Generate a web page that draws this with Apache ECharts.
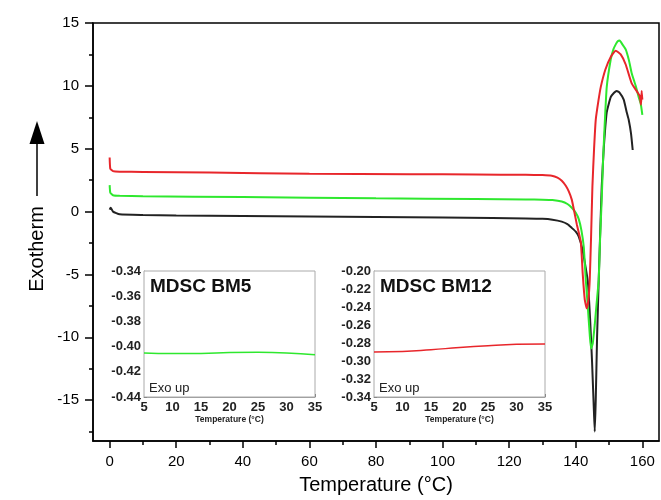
<!DOCTYPE html>
<html>
<head>
<meta charset="utf-8">
<script src="https://cdn.jsdelivr.net/npm/echarts@6/dist/echarts.min.js"></script>
<style>
  html, body { margin: 0; padding: 0; background: #fff; }
  #chart { width: 661px; height: 500px; }
</style>
</head>
<body>
<div id="chart"></div>
<script>
// main DSC curves (temperature in C, heat flow)
const redTemp = [0, 0.2, 1, 3, 10, 30, 60, 90, 110, 125, 130, 132.8, 134.5, 135.8, 137, 137.9, 138.8, 139.4, 140.3, 141.5, 142.1, 142.7, 143.3, 143.8, 144.2, 144.6, 145.0, 145.5, 146, 146.8, 147.5, 148.9, 150.5, 152, 153.5, 155, 156.8, 158.5, 159.2, 159.6, 159.8, 160]
const redHeat = [4.3, 3.4, 3.22, 3.17, 3.15, 3.1, 3.0, 2.97, 2.95, 2.92, 2.9, 2.85, 2.7, 2.45, 2.05, 1.6, 0.95, 0.2, -1.0, -2.4, -5.0, -7.0, -7.7, -7.0, -5.4, -2.0, 2.0, 5.0, 7.3, 8.8, 9.9, 11.3, 12.3, 12.8, 12.5, 11.7, 10.2, 9.5, 9.2, 8.5, 9.6, 8.9]

const greenTemp = [0, 0.2, 1, 3, 10, 40, 80, 110, 125, 130, 133, 135.8, 137.5, 138.8, 140, 140.9, 141.7, 142.4, 143, 143.6, 144.2, 144.6, 145.1, 145.7, 146.3, 146.9, 147.3, 147.8, 148.2, 148.7, 149.3, 150.5, 151.3, 152, 152.6, 153.2, 154, 155, 156, 156.8, 158, 158.9, 159.5, 160]
const greenHeat = [2.1, 1.5, 1.3, 1.25, 1.22, 1.15, 1.05, 1.0, 0.97, 0.95, 0.92, 0.8, 0.6, 0.3, -0.1, -0.6, -1.5, -2.8, -5.4, -7.5, -9.8, -10.9, -10.5, -9.0, -7.2, -5.4, -2.2, 1.0, 4.1, 7.0, 9.9, 12.1, 12.9, 13.3, 13.55, 13.6, 13.3, 12.9, 12.0, 11.0, 10.0, 9.1, 8.6, 7.7]

const blackTemp = [0, 0.3, 1, 3, 10, 20, 40, 60, 80, 100, 115, 125, 130, 133, 135.8, 137.5, 138.8, 140, 140.9, 142, 143, 143.6, 144.3, 144.9, 145.4, 145.7, 146.0, 146.4, 146.9, 147.3, 147.8, 148.4, 149.3, 150.5, 151.5, 152.3, 153.2, 154.4, 155.3, 155.9, 156.6, 157.1]
const blackHeat = [0.15, 0.3, 0.0, -0.22, -0.28, -0.32, -0.36, -0.4, -0.44, -0.48, -0.52, -0.55, -0.58, -0.65, -0.8, -1.0, -1.3, -1.6, -2.0, -3.0, -4.5, -5.5, -8.5, -12, -15.5, -17.5, -15, -10, -5.4, -2.0, 2.0, 5.0, 7.9, 9.1, 9.45, 9.6, 9.45, 8.9, 7.9, 7.3, 6.2, 4.9]

// inset MDSC curves
const insetTemp = [5, 10, 15, 20, 25, 30, 35]
const bm5Heat = [-0.405, -0.4055, -0.4055, -0.4047, -0.4045, -0.405, -0.4065]
const bm12Heat = [-0.290, -0.2895, -0.2875, -0.285, -0.283, -0.2815, -0.281]

// tick labels
const xTicks = [0, 20, 40, 60, 80, 100, 120, 140, 160]
const xMinorTicks = [10, 30, 50, 70, 90, 110, 130, 150]
const yTicks = [-15, -10, -5, 0, 5, 10, 15]
const yMinorTicks = [-17.5, -12.5, -7.5, -2.5, 2.5, 7.5, 12.5]

const font = 'Liberation Sans, Arial, sans-serif'
const zip = (xs, ys) => xs.map((x, i) => [x, ys[i]])

const chart = echarts.init(document.getElementById('chart'))

const mainAxisBase = {
  type: 'value',
  gridIndex: 0,
  splitLine: { show: false },
  axisLine: { show: true, onZero: false, lineStyle: { color: '#000', width: 1.5 } }
}

const insetX = (grid) => ({
  type: 'value',
  gridIndex: grid,
  position: 'bottom',
  min: 5,
  max: 35,
  interval: 5,
  splitLine: { show: false },
  axisLine: { onZero: false, lineStyle: { color: '#999', width: 1 } },
  axisTick: { inside: true, length: 3, lineStyle: { color: '#666' } },
  axisLabel: { fontSize: 13, fontWeight: 'bold', color: '#222', fontFamily: font, margin: 4 },
  name: 'Temperature (°C)',
  nameLocation: 'middle',
  nameGap: 17,
  nameTextStyle: { fontSize: 8.5, fontWeight: 'bold', color: '#222', fontFamily: font }
})

const insetY = (grid, min, max) => ({
  type: 'value',
  gridIndex: grid,
  position: 'left',
  min: min,
  max: max,
  interval: 0.02,
  splitLine: { show: false },
  axisLine: { onZero: false, lineStyle: { color: '#999', width: 1 } },
  axisTick: { inside: true, length: 3, lineStyle: { color: '#666' } },
  minorTick: { show: true, splitNumber: 2, length: 2, lineStyle: { color: '#666' } },
  axisLabel: {
    fontSize: 13, fontWeight: 'bold', color: '#222', fontFamily: font, margin: 3,
    formatter: v => v.toFixed(2)
  }
})

chart.setOption({
  animation: false,
  backgroundColor: '#fff',
  textStyle: { fontFamily: font },
  grid: [
    { left: 93, top: 23, right: 2, bottom: 58, show: true, borderColor: '#000', borderWidth: 1.5 },
    { left: 144, top: 271, width: 171, height: 126, show: true, borderColor: '#aaa', borderWidth: 1, backgroundColor: '#fff', z: 3 },
    { left: 374, top: 271, width: 171, height: 126, show: true, borderColor: '#aaa', borderWidth: 1, backgroundColor: '#fff', z: 3 }
  ],
  xAxis: [
    Object.assign({}, mainAxisBase, {
      position: 'bottom',
      min: -5, max: 165,
      axisTick: { customValues: xTicks, length: 7, lineStyle: { color: '#000', width: 1.5 } },
      axisLabel: { customValues: xTicks, fontSize: 15, color: '#000', margin: 13, fontFamily: font },
      name: 'Temperature (°C)',
      nameLocation: 'middle',
      nameGap: 34,
      nameTextStyle: { fontSize: 20, color: '#000', fontFamily: font }
    }),
    Object.assign({}, mainAxisBase, {
      position: 'bottom',
      min: -5, max: 165,
      axisLine: { show: false, onZero: false },
      axisTick: { customValues: xMinorTicks, length: 4, lineStyle: { color: '#000', width: 1.5 } },
      axisLabel: { show: false }
    }),
    insetX(1),
    insetX(2)
  ],
  yAxis: [
    Object.assign({}, mainAxisBase, {
      position: 'left',
      min: -18.25, max: 15,
      axisTick: { customValues: yTicks, length: 8, lineStyle: { color: '#000', width: 1.5 } },
      axisLabel: { customValues: yTicks, fontSize: 15, color: '#000', margin: 14, fontFamily: font }
    }),
    Object.assign({}, mainAxisBase, {
      position: 'left',
      min: -18.25, max: 15,
      axisLine: { show: false, onZero: false },
      axisTick: { customValues: yMinorTicks, length: 4, lineStyle: { color: '#000', width: 1.5 } },
      axisLabel: { show: false }
    }),
    insetY(1, -0.44, -0.34),
    insetY(2, -0.34, -0.20)
  ],
  graphic: [
    { type: 'polygon', shape: { points: [[37, 121], [29.5, 144], [44.5, 144]] }, style: { fill: '#000' } },
    { type: 'line', shape: { x1: 37, y1: 143, x2: 37, y2: 196 }, style: { stroke: '#000', lineWidth: 1.5 } },
    {
      type: 'text', x: 37, y: 249, rotation: Math.PI / 2,
      style: { text: 'Exotherm', fontSize: 20, fontFamily: font, fill: '#000', align: 'center', verticalAlign: 'middle' }
    },
    { type: 'text', x: 150, y: 287, z: 10, style: { text: 'MDSC BM5', fontSize: 19, fontWeight: 'bold', fontFamily: font, fill: '#111', verticalAlign: 'middle' } },
    { type: 'text', x: 380, y: 287, z: 10, style: { text: 'MDSC BM12', fontSize: 19, fontWeight: 'bold', fontFamily: font, fill: '#111', verticalAlign: 'middle' } },
    { type: 'text', x: 149, y: 388, z: 10, style: { text: 'Exo up', fontSize: 13, fontFamily: font, fill: '#222', verticalAlign: 'middle' } },
    { type: 'text', x: 379, y: 388, z: 10, style: { text: 'Exo up', fontSize: 13, fontFamily: font, fill: '#222', verticalAlign: 'middle' } }
  ],
  series: [
    {
      type: 'line', xAxisIndex: 0, yAxisIndex: 0, data: zip(blackTemp, blackHeat),
      showSymbol: false, smooth: 0.15, lineStyle: { color: '#222', width: 2 }
    },
    {
      type: 'line', xAxisIndex: 0, yAxisIndex: 0, data: zip(greenTemp, greenHeat),
      showSymbol: false, smooth: 0.15, lineStyle: { color: '#2ee82e', width: 2 }
    },
    {
      type: 'line', xAxisIndex: 0, yAxisIndex: 0, data: zip(redTemp, redHeat),
      showSymbol: false, smooth: 0.15, lineStyle: { color: '#e8262b', width: 2 }
    },
    {
      type: 'line', xAxisIndex: 2, yAxisIndex: 2, data: zip(insetTemp, bm5Heat),
      showSymbol: false, smooth: true, lineStyle: { color: '#2ee82e', width: 1.5 }
    },
    {
      type: 'line', xAxisIndex: 3, yAxisIndex: 3, data: zip(insetTemp, bm12Heat),
      showSymbol: false, smooth: true, lineStyle: { color: '#e8262b', width: 1.5 }
    }
  ]
})
</script>
</body>
</html>
